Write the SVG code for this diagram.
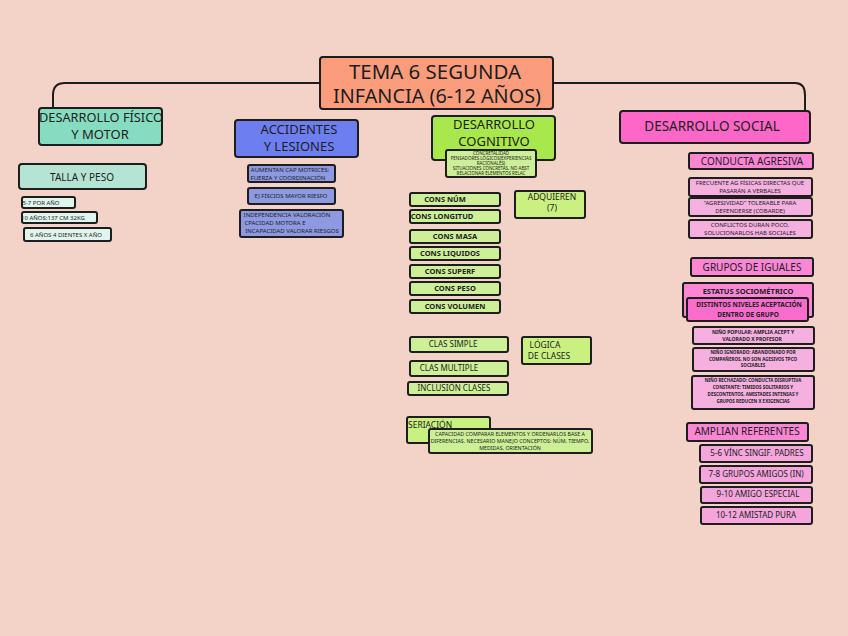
<svg xmlns="http://www.w3.org/2000/svg" width="848" height="636" viewBox="0 0 848 636">
<style>
text{font-family:"Noto Sans","DejaVu Sans",sans-serif;fill:#1d1d1d;text-anchor:middle}
.b{stroke:#1d1d1d;stroke-width:2}
.t{font-size:19px}
.h{font-size:13px}
.m{font-size:10px}
.s{font-size:6px}
.xs{font-size:4.5px}
.sb{font-size:7.5px;font-weight:bold}
.st{font-size:5px;font-weight:bold}
.mint{fill:#86dcc0}.mint2{fill:#b6e4d4}.mint3{fill:#e0f5ee}
.blue{fill:#6d7ff0}.blue2{fill:#8d9ae2}
.lime{fill:#a9e84d}.lime2{fill:#cdef97}
.pink{fill:#fd68c8}.pink2{fill:#fb86d4}.pink3{fill:#f5b0df}.pink4{fill:#fb6ccd}
.c{fill:none;stroke:#1d1d1d;stroke-width:2}
</style>
<rect width="848" height="636" fill="#f3d3c8"/>
<g id="connectors">
<path class="c" d="M320,83 H65 Q53,83 53,95 V108"/>
<path class="c" d="M553,83 H795 Q805,83 805,95 V111"/>
</g>
<g id="title">
<rect class="b" x="320" y="57" width="233" height="52" rx="3" fill="#fb9d7c"/>
<text class="t" x="435" y="79" textLength="172" lengthAdjust="spacingAndGlyphs">TEMA 6 SEGUNDA</text>
<text class="t" x="437" y="103" textLength="208" lengthAdjust="spacingAndGlyphs">INFANCIA (6-12 AÑOS)</text>
</g>
<g id="fisico">
<rect class="b mint" x="39" y="108" width="123" height="37" rx="3"/>
<text class="h" x="101" y="122" textLength="124" lengthAdjust="spacingAndGlyphs">DESARROLLO FÍSICO</text>
<text class="h" x="100" y="139">Y MOTOR</text>
</g>
<g id="talla">
<rect class="b mint2" x="19" y="164" width="127" height="25" rx="3"/>
<text class="m" x="82" y="181">TALLA Y PESO</text>
</g>
<g id="f1"><rect class="b mint3" x="22" y="197" width="53" height="11" rx="2"/><text class="s" x="41" y="205">5-7 POR AÑO</text></g>
<g id="f2"><rect class="b mint3" x="22" y="212" width="75" height="11" rx="2"/><text class="s" x="53" y="220">10 AÑOS:137 CM 32KG</text></g>
<g id="f3"><rect class="b mint3" x="24" y="228" width="87" height="13" rx="2"/><text class="s" x="66" y="237">6 AÑOS 4 DIENTES X AÑO</text></g>
<g id="accidentes">
<rect class="b blue" x="235" y="120" width="123" height="37" rx="3"/>
<text class="h" x="299" y="134">ACCIDENTES</text>
<text class="h" x="299" y="151">Y LESIONES</text>
</g>
<g id="a1"><rect class="b blue2" x="248" y="165" width="87" height="17" rx="2"/><text class="s" x="290" y="172">AUMENTAN CAP MOTRICES:</text><text class="s" x="288" y="180">FUERZA Y COORDINACIÓN</text></g>
<g id="a2"><rect class="b blue2" x="248" y="188" width="87" height="16" rx="2"/><text class="s" x="291" y="198">EJ FÍSCIOS MAYOR RIESFO</text></g>
<g id="a3"><rect class="b blue2" x="240" y="210" width="103" height="27" rx="2"/><text class="s" x="287" y="217">INDEPENDENCIA VALORACIÓN</text><text class="s" x="275" y="225">CPACIDAD MOTORA E</text><text class="s" x="292" y="233">INCAPACIDAD VALORAR RIESGOS</text></g>
<g id="cognitivo">
<rect class="b lime" x="432" y="116" width="123" height="44" rx="3"/>
<text class="h" x="494" y="129">DESARROLLO</text>
<text class="h" x="494" y="146">COGNITIVO</text>
</g>
<g id="cog1">
<rect class="b lime2" x="446" y="150" width="90" height="27" rx="2"/>
<text class="xs" x="491" y="155">CONCRETALIDAD</text>
<text class="xs" x="491" y="160">PENSADORES LÓGICOS(EXPERIENCIAS</text>
<text class="xs" x="491" y="165">RACIONALES)</text>
<text class="xs" x="491" y="170">SITUACIONES CONCRETAS, NO ABST</text>
<text class="xs" x="491" y="175">RELACIONAR ELEMENTOS RELAC</text>
</g>
<g id="c1"><rect class="b lime2" x="410" y="193" width="90" height="13" rx="2"/><text class="sb" x="445" y="202">CONS NÚM</text></g>
<g id="c2"><rect class="b lime2" x="410" y="210" width="90" height="13" rx="2"/><text class="sb" x="442" y="219">CONS LONGITUD</text></g>
<g id="c3"><rect class="b lime2" x="410" y="230" width="90" height="13" rx="2"/><text class="sb" x="455" y="239">CONS MASA</text></g>
<g id="c4"><rect class="b lime2" x="410" y="247" width="90" height="13" rx="2"/><text class="sb" x="450" y="256">CONS LIQUIDOS</text></g>
<g id="c5"><rect class="b lime2" x="410" y="265" width="90" height="13" rx="2"/><text class="sb" x="450" y="274">CONS SUPERF</text></g>
<g id="c6"><rect class="b lime2" x="410" y="282" width="90" height="13" rx="2"/><text class="sb" x="455" y="291">CONS PESO</text></g>
<g id="c7"><rect class="b lime2" x="410" y="300" width="90" height="13" rx="2"/><text class="sb" x="455" y="309">CONS VOLUMEN</text></g>
<g id="adquieren"><rect class="b" x="515" y="191" width="70" height="27" rx="2" fill="#c9f080"/><text class="m" style="font-size:8.5px" x="552" y="200">ADQUIEREN</text><text class="m" style="font-size:8.5px" x="552" y="211">(7)</text></g>
<g id="l1"><rect class="b lime2" x="410" y="337" width="98" height="15" rx="2"/><text class="s" style="font-size:8px" x="453" y="347">CLAS SIMPLE</text></g>
<g id="l2"><rect class="b lime2" x="410" y="361" width="98" height="15" rx="2"/><text class="s" style="font-size:8px" x="449" y="371">CLAS MULTIPLE</text></g>
<g id="l3"><rect class="b lime2" x="408" y="382" width="100" height="13" rx="2"/><text class="s" style="font-size:8px" x="454" y="391">INCLUSIÓN CLASES</text></g>
<g id="logica"><rect class="b" x="522" y="337" width="69" height="27" rx="2" fill="#c9f080"/><text class="m" style="font-size:8.5px" x="545" y="348">LÓGICA</text><text class="m" style="font-size:8.5px" x="549" y="359">DE CLASES</text></g>
<g id="seriacion"><rect class="b" x="407" y="417" width="83" height="26" rx="2" fill="#c9f080"/><text class="m" style="font-size:8.5px;text-anchor:start" x="408" y="428">SERIACIÓN</text></g>
<g id="seri1"><rect class="b lime2" x="429" y="429" width="163" height="24" rx="2"/>
<text class="s" style="font-size:5.3px" x="510" y="436">CAPACIDAD COMPARAR ELEMENTOS Y ORDENARLOS BASE A</text>
<text class="s" style="font-size:5.3px" x="510" y="443">DIFERENCIAS. NECESARIO MANEJO CONCEPTOS: NÚM, TIEMPO,</text>
<text class="s" style="font-size:5.3px" x="510" y="450">MEDIDAS, ORIENTACIÓN</text></g>
<g id="social"><rect class="b pink" x="620" y="111" width="190" height="32" rx="3"/><text class="h" style="font-size:13.5px" x="712" y="131">DESARROLLO SOCIAL</text></g>
<g id="agresiva"><rect class="b pink2" x="689" y="153" width="124" height="16" rx="2"/><text class="m" x="752" y="165">CONDUCTA AGRESIVA</text></g>
<g id="ag1"><rect class="b pink3" x="689" y="178" width="123" height="18" rx="2"/><text class="s" x="750" y="185">FRECUENTE AG FÍSICAS DIRECTAS QUE</text><text class="s" x="750" y="193">PASARÁN A VERBALES</text></g>
<g id="ag2"><rect class="b pink3" x="689" y="198" width="123" height="18" rx="2"/><text class="s" x="750" y="205">“AGRESIVIDAD” TOLERABLE PARA</text><text class="s" x="750" y="213">DEFENDERSE (COBARDE)</text></g>
<g id="ag3"><rect class="b pink3" x="689" y="220" width="123" height="18" rx="2"/><text class="s" x="750" y="227">CONFLICTOS DURAN POCO.</text><text class="s" x="750" y="235">SOLUCIONARLOS HAB SOCIALES</text></g>
<g id="grupos"><rect class="b pink2" x="691" y="258" width="122" height="18" rx="2"/><text class="m" x="752" y="271">GRUPOS DE IGUALES</text></g>
<g id="estatus"><rect class="b pink2" x="683" y="283" width="130" height="34" rx="2"/><text class="sb" x="748" y="294">ESTATUS SOCIOMÉTRICO</text></g>
<g id="distintos"><rect class="b pink4" x="687" y="298" width="121" height="23" rx="2"/><text class="st" style="font-size:6.5px" x="749" y="307">DISTINTOS NIVELES ACEPTACIÓN</text><text class="st" style="font-size:6.5px" x="748" y="317">DENTRO DE GRUPO</text></g>
<g id="g1"><rect class="b pink3" x="693" y="327" width="121" height="17" rx="2"/><text class="st" x="753" y="334">NIÑO POPULAR: AMPLIA ACEPT Y</text><text class="st" x="752" y="341">VALORADO X PROFESOR</text></g>
<g id="g2"><rect class="b pink3" x="693" y="348" width="121" height="23" rx="2"/><text class="xs" style="font-weight:bold" x="753" y="354">NIÑO IGNORADO: ABANDONADO POR</text><text class="xs" style="font-weight:bold" x="753" y="361">COMPAÑEROS, NO SON AGESIVOS TPCO</text><text class="xs" style="font-weight:bold" x="753" y="367">SOCIABLES</text></g>
<g id="g3"><rect class="b pink3" x="692" y="376" width="122" height="33" rx="2"/><text class="xs" style="font-weight:bold" x="753" y="382">NIÑO RECHAZADO: CONDUCTA DISRUPTIVA</text><text class="xs" style="font-weight:bold" x="753" y="389">CONSTANTE: TIMIDOS SOLITARIOS Y</text><text class="xs" style="font-weight:bold" x="753" y="396">DESCONTENTOS, AMISTADES INTENSAS Y</text><text class="xs" style="font-weight:bold" x="753" y="403">GRUPOS REDUCEN X EXIGENCIAS</text></g>
<g id="amplian"><rect class="b pink2" x="687" y="423" width="121" height="18" rx="2"/><text class="m" x="747" y="435">AMPLIAN REFERENTES</text></g>
<g id="r1"><rect class="b" x="700" y="445" width="112" height="17" rx="2" fill="#f5a4dc"/><text class="s" style="font-size:8px" x="757" y="456">5-6 VÍNC SINGIF. PADRES</text></g>
<g id="r2"><rect class="b" x="700" y="466" width="112" height="17" rx="2" fill="#f5a4dc"/><text class="s" style="font-size:8px" x="756" y="477">7-8 GRUPOS AMIGOS (IN)</text></g>
<g id="r3"><rect class="b" x="701" y="487" width="111" height="16" rx="2" fill="#f5a4dc"/><text class="s" style="font-size:8px" x="758" y="497">9-10 AMIGO ESPECIAL</text></g>
<g id="r4"><rect class="b" x="701" y="507" width="111" height="17" rx="2" fill="#f5a4dc"/><text class="s" style="font-size:8px" x="756" y="518">10-12 AMISTAD PURA</text></g>
</svg>
